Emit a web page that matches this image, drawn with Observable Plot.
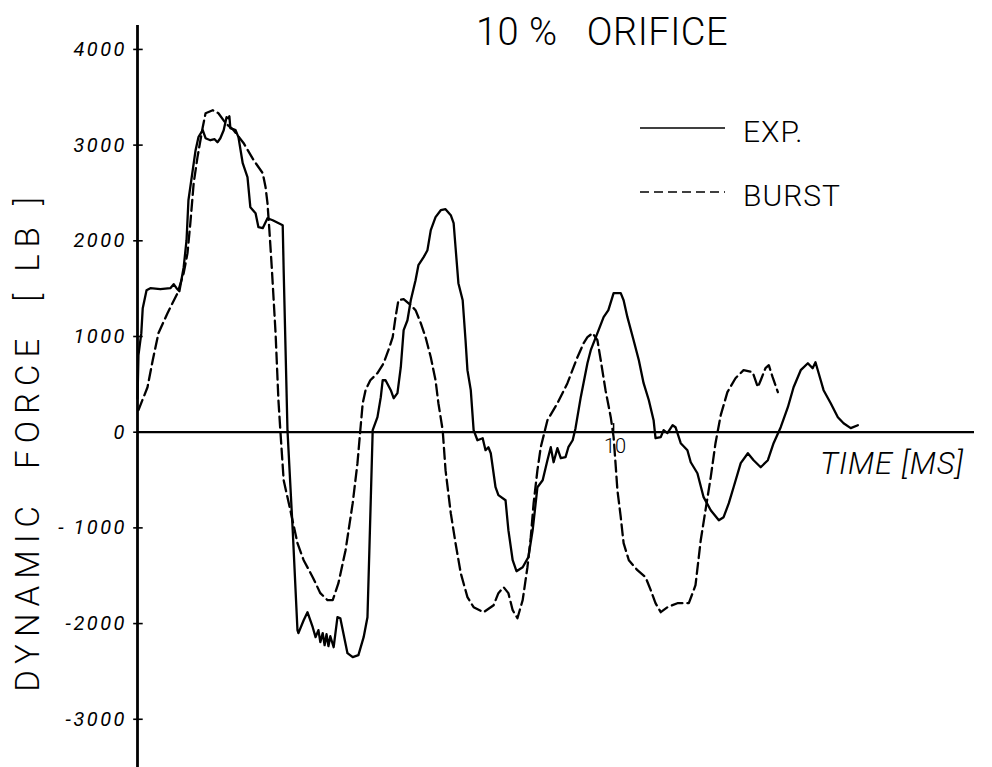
<!DOCTYPE html>
<html>
<head>
<meta charset="utf-8">
<script src="https://cdn.jsdelivr.net/npm/d3@7"></script>
<script src="https://cdn.jsdelivr.net/npm/@observablehq/plot@0.6"></script>
<style>
  html, body { margin: 0; padding: 0; background: #fff; }
  #chart { position: relative; width: 992px; height: 767px; }
</style>
</head>
<body>
<div id="chart"></div>
<script>
// ---- data (time in ms, dynamic force in lb) ----
const expT = [0,0.02,0.08,0.11,0.19,0.27,0.48,0.69,0.76,0.82,0.88,0.97,1.03,1.07,1.16,1.22,1.28,1.37,1.43,1.53,1.62,1.68,1.74,1.81,1.87,1.91,1.93,1.95,2.06,2.12,2.21,2.31,2.37,2.48,2.54,2.63,2.73,2.84,3.05,3.07,3.11,3.15,3.26,3.36,3.38,3.49,3.57,3.68,3.74,3.80,3.84,3.89,3.93,3.97,4.01,4.05,4.12,4.20,4.26,4.41,4.52,4.64,4.75,4.83,4.87,4.94,5.04,5.11,5.15,5.21,5.32,5.38,5.46,5.53,5.59,5.67,5.74,5.84,5.90,6.01,6.09,6.16,6.26,6.37,6.47,6.58,6.64,6.68,6.74,6.83,6.89,6.93,7.00,7.06,7.14,7.25,7.31,7.37,7.42,7.52,7.58,7.73,7.79,7.88,7.96,8.09,8.21,8.30,8.40,8.51,8.61,8.68,8.74,8.82,8.89,8.99,9.05,9.14,9.20,9.31,9.45,9.52,9.66,9.79,9.89,10.00,10.15,10.21,10.29,10.42,10.53,10.63,10.74,10.84,10.88,10.99,11.05,11.13,11.24,11.30,11.41,11.55,11.62,11.76,11.89,12.04,12.21,12.31,12.42,12.52,12.67,12.82,12.94,13.09,13.24,13.36,13.51,13.66,13.78,13.93,14.08,14.18,14.24,14.35,14.41,14.56,14.71,14.83,14.98,15.13];
const expV = [350,805,1035,1296,1484,1505,1494,1505,1547,1505,1473,1724,2006,2424,2738,2947,3083,3156,3072,3051,3062,3030,3072,3156,3292,3281,3302,3177,3156,3083,2811,2665,2351,2289,2142,2132,2236,2215,2163,1693,857,21,-1024,-2069,-2100,-1965,-1881,-2038,-2142,-2069,-2194,-2100,-2226,-2111,-2236,-2132,-2247,-1933,-1944,-2309,-2351,-2330,-2142,-1933,-1233,21,157,366,543,543,439,355,408,679,1066,1170,1379,1588,1745,1829,1902,2111,2247,2320,2330,2268,2184,1933,1557,1379,961,648,439,21,-84,-63,-188,-157,-220,-575,-658,-711,-1024,-1338,-1453,-1411,-1306,-1024,-575,-502,-293,-157,-314,-167,-272,-261,-157,-84,42,366,721,857,1035,1202,1275,1453,1453,1379,1202,961,752,512,334,125,-63,-52,21,-10,73,52,-115,-188,-314,-429,-679,-815,-920,-888,-742,-575,-324,-220,-293,-366,-293,-115,52,261,470,648,721,669,731,543,439,303,157,94,42,73];

const burstT = [0.02,0.21,0.32,0.44,0.63,0.84,0.97,1.05,1.11,1.18,1.26,1.37,1.43,1.58,1.70,1.85,2.02,2.23,2.44,2.63,2.69,2.73,2.77,2.82,2.90,2.96,3.00,3.07,3.21,3.36,3.49,3.68,3.84,3.99,4.10,4.22,4.37,4.52,4.62,4.68,4.73,4.79,4.89,5.04,5.17,5.27,5.36,5.42,5.48,5.59,5.74,5.84,5.95,6.05,6.16,6.26,6.32,6.41,6.47,6.58,6.68,6.79,6.93,7.06,7.27,7.48,7.58,7.69,7.79,7.88,7.98,8.09,8.19,8.26,8.32,8.40,8.47,8.61,8.82,9.03,9.24,9.37,9.45,9.56,9.66,9.73,9.83,9.94,10.00,10.04,10.08,10.15,10.21,10.32,10.50,10.67,10.78,10.88,10.99,11.13,11.34,11.58,11.72,11.83,11.93,12.04,12.14,12.25,12.39,12.56,12.73,12.92,13.03,13.09,13.19,13.26,13.34,13.45];
const burstV = [230,470,752,1035,1244,1453,1662,1871,2184,2602,2874,3187,3333,3365,3333,3229,3156,3020,2842,2707,2560,2393,2111,1724,1035,334,21,-502,-815,-1160,-1338,-1515,-1682,-1755,-1755,-1578,-1233,-742,-324,21,303,439,543,617,721,857,993,1202,1379,1390,1327,1275,1139,993,784,543,303,21,-397,-846,-1160,-1474,-1724,-1829,-1881,-1808,-1682,-1620,-1682,-1860,-1944,-1755,-1411,-1097,-742,-397,-157,125,303,512,784,930,993,1035,961,752,439,157,-52,-324,-606,-888,-1160,-1338,-1442,-1515,-1651,-1787,-1881,-1829,-1787,-1787,-1599,-1129,-815,-470,-115,178,418,564,648,627,470,543,669,700,575,418];

const yTicks = [4000, 3000, 2000, 1000, 0, -1000, -2000, -3000];
const yTickLabels = ["4000", "3000", "2000", "1000", "0", "- 1000", "-2000", "-3000"];
const xTicks = [10];
const xTickLabels = ["10"];
const seriesNames = ["EXP.", "BURST"];
const titleText = "10 %   ORIFICE";
const xTitle = "TIME [MS]";
const yTitle = "DYNAMIC  FORCE  [ LB ]";

// ---- tables built from the arrays ----
const exp = expT.map((t, i) => ({t, v: expV[i]}));
const burst = burstT.map((t, i) => ({t, v: burstV[i]}));

const chart = Plot.plot({
  width: 992,
  height: 767,
  marginLeft: 137,
  marginRight: 18,
  marginTop: 25,
  marginBottom: 0,
  style: {background: "white", color: "black", overflow: "visible"},
  x: {domain: [0, 17.58], axis: null},
  y: {domain: [-3504, 4250], axis: null},
  marks: [
    // y axis line and tick marks
    Plot.ruleX([0], {stroke: "black", strokeWidth: 2.8}),
    Plot.ruleY(yTicks, {x1: -0.08, x2: 0.12, stroke: "black", strokeWidth: 1.6}),
    // x axis line at zero and its tick
    Plot.ruleY([0], {stroke: "black", strokeWidth: 2.2}),
    Plot.ruleX(xTicks, {y1: 0, y2: 90, stroke: "black", strokeWidth: 1.5}),
    // series
    Plot.line(burst, {x: "t", y: "v", stroke: "black", strokeWidth: 2.3, strokeDasharray: "11,5"}),
    Plot.line(exp, {x: "t", y: "v", stroke: "black", strokeWidth: 2.3})
  ]
});

document.getElementById("chart").appendChild(chart);

// ---- text: tick labels, title, axis titles, legend ----
const svg = d3.select(chart);
const font = "Roboto, 'DejaVu Sans', sans-serif";
const sx = chart.scale("x"), sy = chart.scale("y");

const yLab = svg.append("g")
  .attr("font-family", font).attr("font-style", "italic")
  .attr("font-size", 20).attr("fill", "black")
  .attr("text-anchor", "end").attr("letter-spacing", 2.5);
yTicks.forEach((d, i) => {
  yLab.append("text")
    .attr("x", sx.apply(0) - 10)
    .attr("y", sy.apply(d))
    .attr("dy", "0.35em")
    .text(yTickLabels[i]);
});

const xLab = svg.append("g")
  .attr("font-family", font).attr("font-weight", 300)
  .attr("font-size", 20).attr("fill", "black")
  .attr("text-anchor", "middle");
xTicks.forEach((d, i) => {
  xLab.append("text")
    .attr("x", sx.apply(d) + 2)
    .attr("y", sy.apply(0) + 21)
    .text(xTickLabels[i]);
});

svg.append("text")
  .attr("x", 476).attr("y", 45)
  .attr("text-anchor", "start")
  .attr("font-family", font).attr("font-weight", 300)
  .attr("font-size", 38).attr("fill", "black")
  .attr("letter-spacing", 0.5)
  .text(titleText);

svg.append("text")
  .attr("x", 820).attr("y", 474)
  .attr("text-anchor", "start")
  .attr("font-family", font).attr("font-weight", 300).attr("font-style", "italic")
  .attr("font-size", 31).attr("fill", "black")
  .attr("letter-spacing", 1)
  .text(xTitle);

svg.append("text")
  .attr("transform", "translate(39,441) rotate(-90)")
  .attr("text-anchor", "middle")
  .attr("font-family", font).attr("font-weight", 300)
  .attr("font-size", 33).attr("fill", "black")
  .attr("letter-spacing", 7)
  .text(yTitle);

const legend = svg.append("g");
const legendRows = [
  {name: seriesNames[0], y: 128, dash: null},
  {name: seriesNames[1], y: 192, dash: "9,5"}
];
legendRows.forEach(r => {
  legend.append("line")
    .attr("x1", 640).attr("x2", 725).attr("y1", r.y).attr("y2", r.y)
    .attr("stroke", "black").attr("stroke-width", 1.6)
    .attr("stroke-dasharray", r.dash);
  legend.append("text")
    .attr("x", 743).attr("y", r.y + 14)
    .attr("text-anchor", "start")
    .attr("font-family", font).attr("font-weight", 300)
    .attr("font-size", 30).attr("fill", "black")
    .attr("letter-spacing", 1)
    .text(r.name);
});
</script>
</body>
</html>
